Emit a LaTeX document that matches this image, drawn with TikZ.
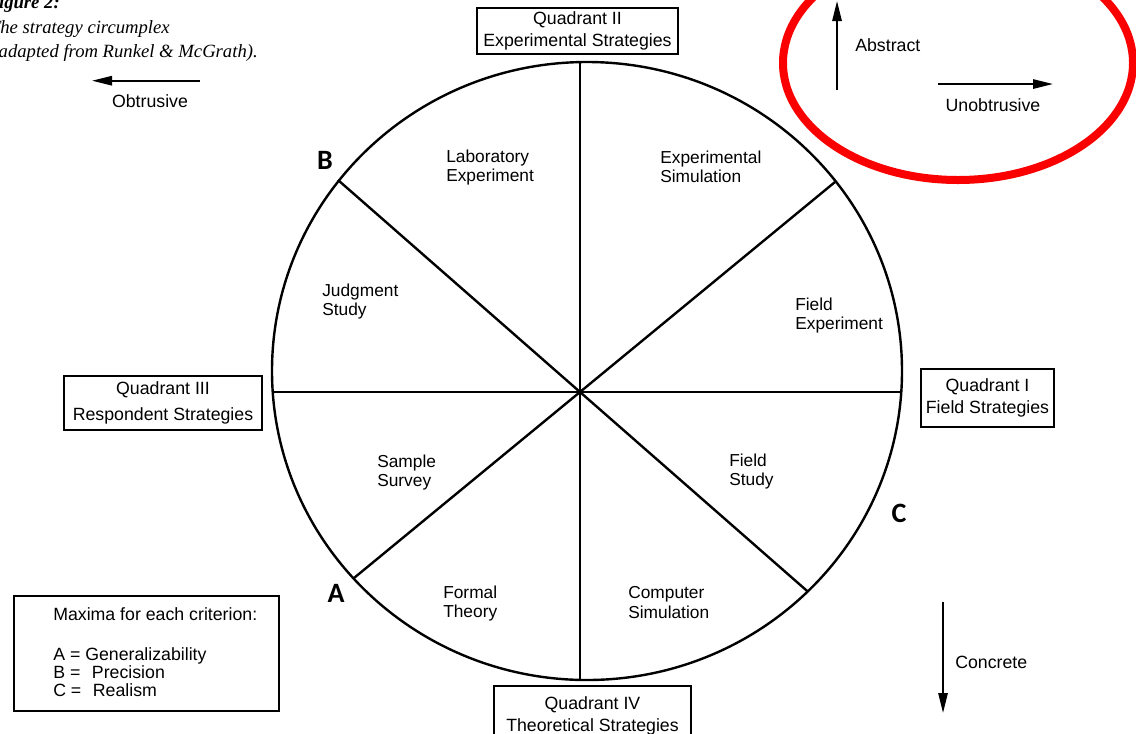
\documentclass[tikz,border=0pt]{standalone}
\usepackage{fontspec}
\setmainfont{Liberation Sans}
\newfontfamily\titlefont{Liberation Serif}
\newfontfamily\letterfont{Carlito}
\usetikzlibrary{arrows.meta}
\begin{document}
\begin{tikzpicture}[x=0.75pt,y=-0.75pt,
  lbl/.style={font=\fontsize{13}{14.3}\selectfont, align=left, anchor=west, inner sep=0pt},
  quad/.style={draw, line width=1.3pt, align=center, inner sep=0pt, font=\fontsize{13.3}{17}\selectfont},
  txt/.style={font=\fontsize{13.3}{16}\selectfont, inner sep=0pt},
  lett/.style={font=\letterfont\bfseries\fontsize{21}{24}\selectfont, inner sep=0pt},
  axisarrow/.style={line width=1.4pt, -{Triangle[length=15pt,width=7pt]}},
  ttl/.style={font=\titlefont\itshape\fontsize{14}{16}\selectfont, anchor=base east, inner sep=0pt},
  spoke/.style={line width=1.8pt},
  mark red/.style={draw={rgb,255:red,250;green,0;blue,0}, line width=6pt}
]
\useasboundingbox (0,0) rectangle (1136,733);
\fill[white] (0,0) rectangle (1136,733);

% circle and spokes
\coordinate (cc) at (587,371);
\coordinate (o) at (580,392);
\coordinate (pT) at (580,62.1);
\coordinate (pBot) at (580,679.9);
\coordinate (pL) at (272.7,392);
\coordinate (pR) at (901.3,392);
\coordinate (pB) at (338,180);
\coordinate (pUR) at (835,182);
\coordinate (pA) at (354,578);
\coordinate (pLR) at (807.5,591.3);
\draw[spoke] (cc) ellipse [x radius=315, y radius=309];
\draw[spoke] (o) -- (pT);
\draw[spoke] (o) -- (pBot);
\draw[spoke] (o) -- (pL);
\draw[spoke] (o) -- (pR);
\draw[spoke] (o) -- (pB);
\draw[spoke] (o) -- (pUR);
\draw[spoke] (o) -- (pA);
\draw[spoke] (o) -- (pLR);

% sector labels
\node[lbl] (lab) at (446,167.5) {Laboratory\\Experiment};
\node[lbl] (expsim) at (660,167) {Experimental\\Simulation};
\node[lbl] (judg) at (322,301.5) {Judgment\\Study};
\node[lbl] (fexp) at (795,315.5) {Field\\Experiment};
\node[lbl] (samp) at (377,472.5) {Sample\\Survey};
\node[lbl] (fstudy) at (729,471.5) {Field\\Study};
\node[lbl] (formal) at (443,603.5) {Formal\\Theory};
\node[lbl] (comp) at (628,602.5) {Computer\\Simulation};

% letters
\node[lett] (B) at (325,160) {B};
\node[lett] (A) at (336,593) {A};
\node[lett] (C) at (899,513) {C};

% quadrant boxes
\node[quad, minimum width=150.75pt, minimum height=34.5pt] (q2) at (577.5,31) {Quadrant II\\Experimental Strategies};
\node[quad, minimum width=148.5pt, minimum height=40.5pt] (q3) at (163,403) {Quadrant III\\[2pt]Respondent Strategies};
\node[quad, minimum width=99.75pt, minimum height=43.5pt] (q1) at (987.5,398) {Quadrant I\\Field Strategies};
\node[quad, minimum width=147.75pt, minimum height=45pt] (q4) at (592.5,716) {Quadrant IV\\Theoretical Strategies};

% legend box
\node[draw, line width=1.3pt, minimum width=198.75pt, minimum height=86.25pt, inner sep=0pt] (legend) at (146.5,653.5) {};
\node[txt, anchor=base west] (lg1) at (53,620) {Maxima for each criterion:};
\node[txt, anchor=base west] (lg2) at (53,660) {A = Generalizability};
\node[txt, anchor=base west] (lg3) at (53,678) {B = \hspace{5pt}Precision};
\node[txt, anchor=base west] (lg4) at (53,696) {C = \hspace{5pt}Realism};

% title
\node[ttl, font=\titlefont\bfseries\itshape\fontsize{14}{16}\selectfont] (fig) at (60,8) {Figure 2:};
\node[ttl] (t2) at (170,33) {The strategy circumplex};
\node[ttl] (t3) at (258,57) {(adapted from Runkel \& McGrath).};

% direction arrows
\coordinate (obS) at (200,80.7);
\coordinate (obE) at (92,80.7);
\draw[axisarrow] (obS) -- (obE);
\node[txt] (obt) at (150,101) {Obtrusive};

\coordinate (abS) at (837,90);
\coordinate (abE) at (837,1);
\draw[axisarrow] (abS) -- (abE);
\node[txt, anchor=west] (abs) at (855,45) {Abstract};

\coordinate (unS) at (938,84);
\coordinate (unE) at (1053,84);
\draw[axisarrow] (unS) -- (unE);
\node[txt] (unob) at (993,105) {Unobtrusive};

\coordinate (coS) at (943,602);
\coordinate (coE) at (943,713);
\draw[axisarrow] (coS) -- (coE);
\node[txt, anchor=west] (conc) at (955,662) {Concrete};

% red highlight
\draw[mark red] (958,63) ellipse [x radius=175, y radius=117];
\end{tikzpicture}
\end{document}
